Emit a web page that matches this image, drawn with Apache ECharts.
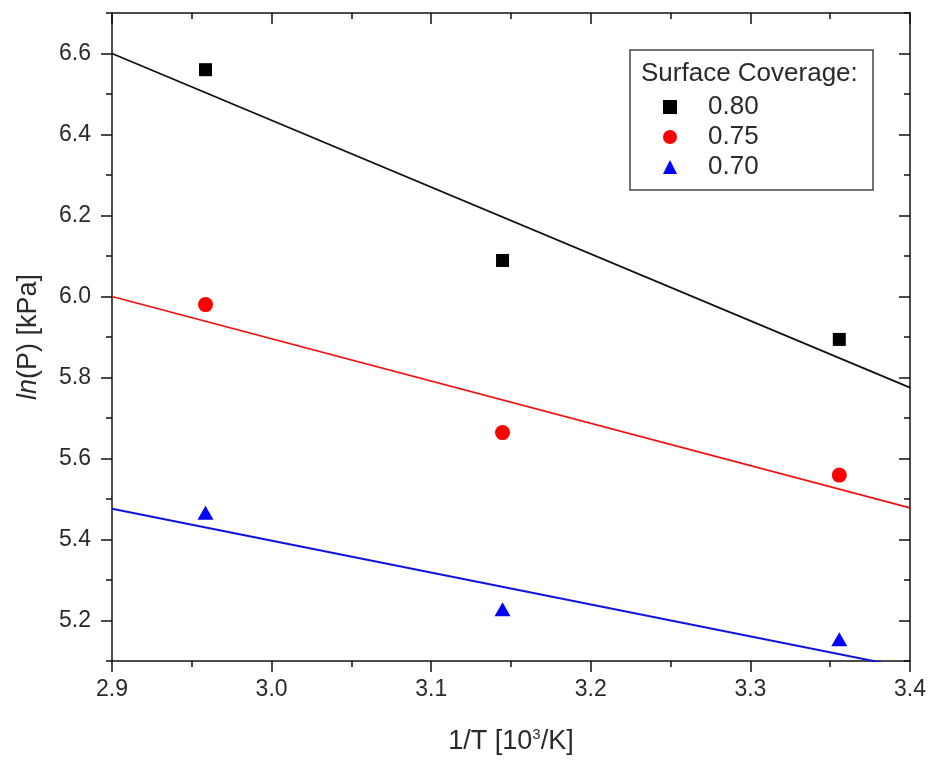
<!DOCTYPE html>
<html>
<head>
<meta charset="utf-8">
<script src="https://cdn.jsdelivr.net/npm/echarts@6/dist/echarts.min.js"></script>
<style>
html,body{margin:0;padding:0;background:#fff;}
#chart{width:930px;height:764px;}
</style>
</head>
<body>
<div id="chart"></div>
<script>
// ---- data ----
var invT = [2.9586, 3.1447, 3.3557];          // 1/T [10^3/K]
var lnP080 = [6.560, 6.089, 5.894];
var lnP075 = [5.980, 5.664, 5.559];
var lnP070 = [5.466, 5.228, 5.154];
var fitX = [2.9, 3.4];
var fit080 = [6.600, 5.775];
var fit075 = [6.000, 5.478];
var fit070 = [5.476, 5.082];
var seriesNames = ['0.80', '0.75', '0.70'];
var xMajorTicks = [2.9, 3.0, 3.1, 3.2, 3.3, 3.4];
var xMinorTicks = [2.95, 3.05, 3.15, 3.25, 3.35];
var yMajorTicks = [5.2, 5.4, 5.6, 5.8, 6.0, 6.2, 6.4, 6.6];
var yMinorTicks = [5.1, 5.3, 5.5, 5.7, 5.9, 6.1, 6.3, 6.5, 6.7];

function pairs(xs, ys) { return xs.map(function (x, i) { return [x, ys[i]]; }); }

var FONT = '"Liberation Sans", Arial, sans-serif';
var X_MIN = 2.9, X_MAX = 3.4, Y_MIN = 5.1, Y_MAX = 6.7;
var gridPos = { left: 112, right: 20, top: 13, bottom: 103 };

function axisBase(type, extra) {
  var a = {
    type: 'value', splitLine: { show: false },
    axisLine: { show: true, onZero: false, lineStyle: { color: '#111', width: 1.5 } },
    axisTick: { show: true, lineStyle: { color: '#111', width: 1.5 } },
    axisLabel: { show: false }
  };
  for (var k in extra) a[k] = extra[k];
  return a;
}

var chart = echarts.init(document.getElementById('chart'), null, { renderer: 'canvas' });
var option = {
  backgroundColor: '#ffffff',
  animation: false,
  grid: [
    Object.assign({}, gridPos),
    Object.assign({}, gridPos)
  ],
  xAxis: [
    axisBase('value', {
      gridIndex: 0, position: 'bottom', min: X_MIN, max: X_MAX,
      name: '1/T [10{sup|3}/K]', nameLocation: 'middle', nameGap: 66,
      nameTextStyle: { fontFamily: FONT, fontSize: 27, color: '#2a2a2a',
        rich: { sup: { fontFamily: FONT, fontSize: 15, color: '#2a2a2a', verticalAlign: 'top', padding: [0, 0, 14, 0] } } },
      axisTick: { show: true, length: 11, customValues: xMajorTicks, lineStyle: { color: '#111', width: 1.5 } },
      axisLabel: { show: true, customValues: xMajorTicks, margin: 17, fontFamily: FONT, fontSize: 23, color: '#2a2a2a',
        formatter: function (v) { return v.toFixed(1); } }
    }),
    axisBase('value', {
      gridIndex: 0, position: 'top', min: X_MIN, max: X_MAX,
      axisTick: { show: true, inside: true, length: 11, customValues: xMajorTicks, lineStyle: { color: '#111', width: 1.5 } }
    }),
    axisBase('value', {
      gridIndex: 1, position: 'bottom', min: X_MIN, max: X_MAX,
      axisLine: { show: false },
      axisTick: { show: true, length: 6, customValues: xMinorTicks, lineStyle: { color: '#111', width: 1.5 } }
    }),
    axisBase('value', {
      gridIndex: 1, position: 'top', min: X_MIN, max: X_MAX,
      axisLine: { show: false },
      axisTick: { show: true, inside: true, length: 6, customValues: xMinorTicks, lineStyle: { color: '#111', width: 1.5 } }
    })
  ],
  yAxis: [
    axisBase('value', {
      gridIndex: 0, position: 'left', min: Y_MIN, max: Y_MAX,
      name: '{i|ln}(P) [kPa]', nameLocation: 'middle', nameGap: 70, nameRotate: 90,
      nameTextStyle: { fontFamily: FONT, fontSize: 27, color: '#2a2a2a',
        rich: { i: { fontFamily: FONT, fontSize: 27, fontStyle: 'italic', color: '#2a2a2a' } } },
      axisTick: { show: true, length: 11, customValues: yMajorTicks, lineStyle: { color: '#111', width: 1.5 } },
      axisLabel: { show: true, customValues: yMajorTicks, margin: 21, fontFamily: FONT, fontSize: 23, color: '#2a2a2a',
        formatter: function (v) { return v.toFixed(1); } }
    }),
    axisBase('value', {
      gridIndex: 0, position: 'right', min: Y_MIN, max: Y_MAX,
      axisTick: { show: true, inside: true, length: 11, customValues: yMajorTicks, lineStyle: { color: '#111', width: 1.5 } }
    }),
    axisBase('value', {
      gridIndex: 1, position: 'left', min: Y_MIN, max: Y_MAX,
      axisLine: { show: false },
      axisTick: { show: true, length: 6, customValues: yMinorTicks, lineStyle: { color: '#111', width: 1.5 } }
    }),
    axisBase('value', {
      gridIndex: 1, position: 'right', min: Y_MIN, max: Y_MAX,
      axisLine: { show: false },
      axisTick: { show: true, inside: true, length: 6, customValues: yMinorTicks, lineStyle: { color: '#111', width: 1.5 } }
    })
  ],
  legend: {
    data: seriesNames,
    orient: 'vertical',
    left: 663, top: 92,
    itemWidth: 14, itemHeight: 14, itemGap: 0,
    padding: 0,
    textStyle: { fontFamily: FONT, fontSize: 26, color: '#2a2a2a', lineHeight: 30, padding: [0, 0, 0, 26] }
  },
  graphic: [
    { type: 'rect', shape: { x: 630, y: 50, width: 243, height: 140 },
      style: { fill: 'none', stroke: '#444', lineWidth: 1.5 }, z: 10 },
    { type: 'text', x: 641, y: 74, z: 10,
      style: { text: 'Surface Coverage:', font: '26px ' + FONT, fill: '#2a2a2a', textVerticalAlign: 'middle' } }
  ],
  series: [
    { type: 'line', xAxisIndex: 0, yAxisIndex: 0, data: pairs(fitX, fit080), symbol: 'none', silent: true,
      lineStyle: { color: '#111', width: 1.8 }, z: 2 },
    { type: 'line', xAxisIndex: 0, yAxisIndex: 0, data: pairs(fitX, fit075), symbol: 'none', silent: true,
      lineStyle: { color: '#ee1111', width: 1.8 }, z: 2 },
    { type: 'line', xAxisIndex: 0, yAxisIndex: 0, data: pairs(fitX, fit070), symbol: 'none', silent: true,
      lineStyle: { color: '#1111dd', width: 2 }, z: 2 },
    { name: seriesNames[0], type: 'scatter', xAxisIndex: 0, yAxisIndex: 0, data: pairs(invT, lnP080),
      symbol: 'rect', symbolSize: 13, itemStyle: { color: '#000000', opacity: 1 }, z: 5 },
    { name: seriesNames[1], type: 'scatter', xAxisIndex: 0, yAxisIndex: 0, data: pairs(invT, lnP075),
      symbol: 'circle', symbolSize: 15, itemStyle: { color: '#ff0000', opacity: 1 }, z: 5 },
    { name: seriesNames[2], type: 'scatter', xAxisIndex: 0, yAxisIndex: 0, data: pairs(invT, lnP070),
      symbol: 'triangle', symbolSize: [16, 14], itemStyle: { color: '#0000ff', opacity: 1 }, z: 5 }
  ]
};
chart.setOption(option);
</script>
</body>
</html>
